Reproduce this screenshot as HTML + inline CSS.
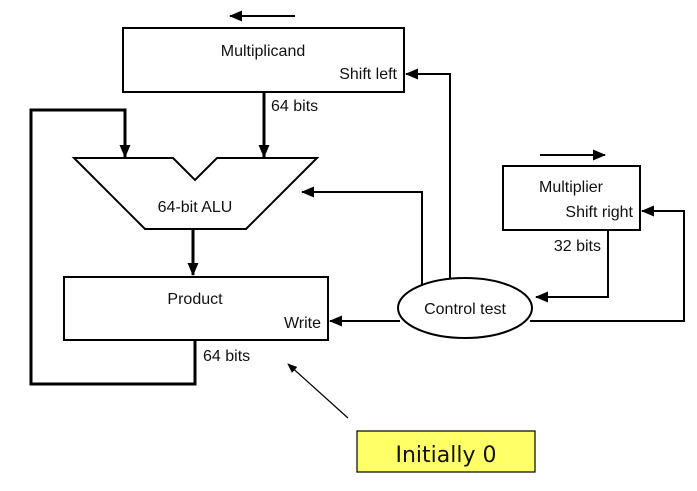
<!DOCTYPE html>
<html><head><style>
body{margin:0;background:#fff;}
svg text{font-family:"Liberation Sans",sans-serif;font-size:16px;fill:#111;}
</style></head><body>
<svg width="697" height="486" viewBox="0 0 697 486" xmlns="http://www.w3.org/2000/svg">
<defs>
<marker id="a" markerWidth="13" markerHeight="11" refX="12" refY="5.5" orient="auto" markerUnits="userSpaceOnUse"><path d="M0,0 L13,5.5 L0,11 z" fill="#000"/></marker>
<marker id="s" markerWidth="10" markerHeight="8" refX="9" refY="4" orient="auto" markerUnits="userSpaceOnUse"><path d="M0,0 L10,4 L0,8 z" fill="#000"/></marker>
</defs>
<g stroke="#000" stroke-width="2" fill="none">
<line x1="295" y1="16" x2="230" y2="16" marker-end="url(#a)"/>
<rect x="123" y="28" width="281" height="64" fill="#fff"/>
<line x1="264" y1="92" x2="264" y2="157" stroke-width="3" marker-end="url(#a)"/>
<polyline points="195,341 195,384 31,384 31,110 125,110 125,157" stroke-width="3" marker-end="url(#a)"/>
<polygon points="74,158 173,158 195,180 217,158 317,158 246,229 145,229" fill="#fff"/>
<line x1="193" y1="229" x2="193" y2="275" stroke-width="3" marker-end="url(#a)"/>
<rect x="64" y="277" width="264" height="63" fill="#fff"/>
<line x1="540" y1="155" x2="605" y2="155" marker-end="url(#a)"/>
<rect x="503" y="166" width="137" height="64" fill="#fff"/>
<polyline points="450,280 450,74 406,74" marker-end="url(#a)"/>
<polyline points="422,285 422,192 302,192" marker-end="url(#a)"/>
<polyline points="608,230 608,297 536,297" marker-end="url(#a)"/>
<polyline points="530,321 684,321 684,211 642,211" marker-end="url(#a)"/>
<line x1="400" y1="321" x2="330" y2="321" marker-end="url(#a)"/>
<ellipse cx="465" cy="308" rx="67" ry="30" fill="#fff"/>
<line x1="348" y1="418" x2="288" y2="364" stroke-width="1.2" marker-end="url(#s)"/>
<rect x="357" y="431" width="178" height="41" fill="#ffff66" stroke-width="1.2"/>
</g>
<text x="263" y="56" text-anchor="middle">Multiplicand</text>
<text x="397" y="79" text-anchor="end">Shift left</text>
<text x="271" y="111">64 bits</text>
<text x="195" y="212" text-anchor="middle">64-bit ALU</text>
<text x="195" y="304" text-anchor="middle">Product</text>
<text x="321" y="328" text-anchor="end">Write</text>
<text x="203" y="361">64 bits</text>
<text x="571" y="192" text-anchor="middle">Multiplier</text>
<text x="633" y="217" text-anchor="end">Shift right</text>
<text x="601" y="251" text-anchor="end">32 bits</text>
<text x="465" y="314" text-anchor="middle">Control test</text>
<text x="446" y="462" text-anchor="middle" style="font-family:'DejaVu Sans',sans-serif;font-size:22px">Initially 0</text>
</svg>
</body></html>
